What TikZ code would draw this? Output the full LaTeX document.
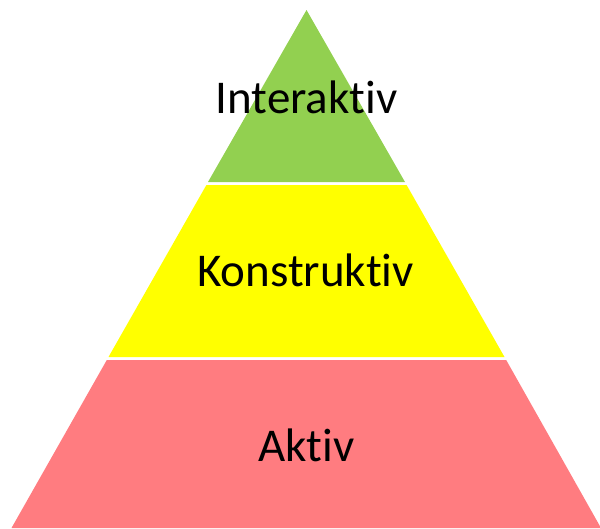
\documentclass[tikz,border=0pt]{standalone}
\usepackage{fontspec}
\setmainfont[Ligatures={NoCommon,NoContextual}]{Carlito}
\definecolor{pgreen}{HTML}{92D050}
\definecolor{pyellow}{HTML}{FFFF00}
\definecolor{pred}{HTML}{FF7C80}
\tikzset{lbl/.style={font=\fontsize{47}{56}\selectfont, text=black, inner sep=0pt}}
\begin{document}
\begin{tikzpicture}[x=1pt,y=-1pt]
\useasboundingbox (0,0) rectangle (600,528);
\fill[pgreen] (306.5,10) -- (405,182) -- (208,182) -- cycle;
\fill[pyellow] (206.4,185) -- (406.6,185) -- (504.5,357) -- (108.5,357) -- cycle;
\fill[pred] (106.8,360) -- (506.2,360) -- (601,528) -- (11.5,528) -- cycle;
\node[lbl] (inter) at (306.5,97) {Interaktiv};
\node[lbl] (konst) at (305.5,270) {Konstruktiv};
\node[lbl] (aktiv) at (306.5,445) {Aktiv};
\end{tikzpicture}
\end{document}
